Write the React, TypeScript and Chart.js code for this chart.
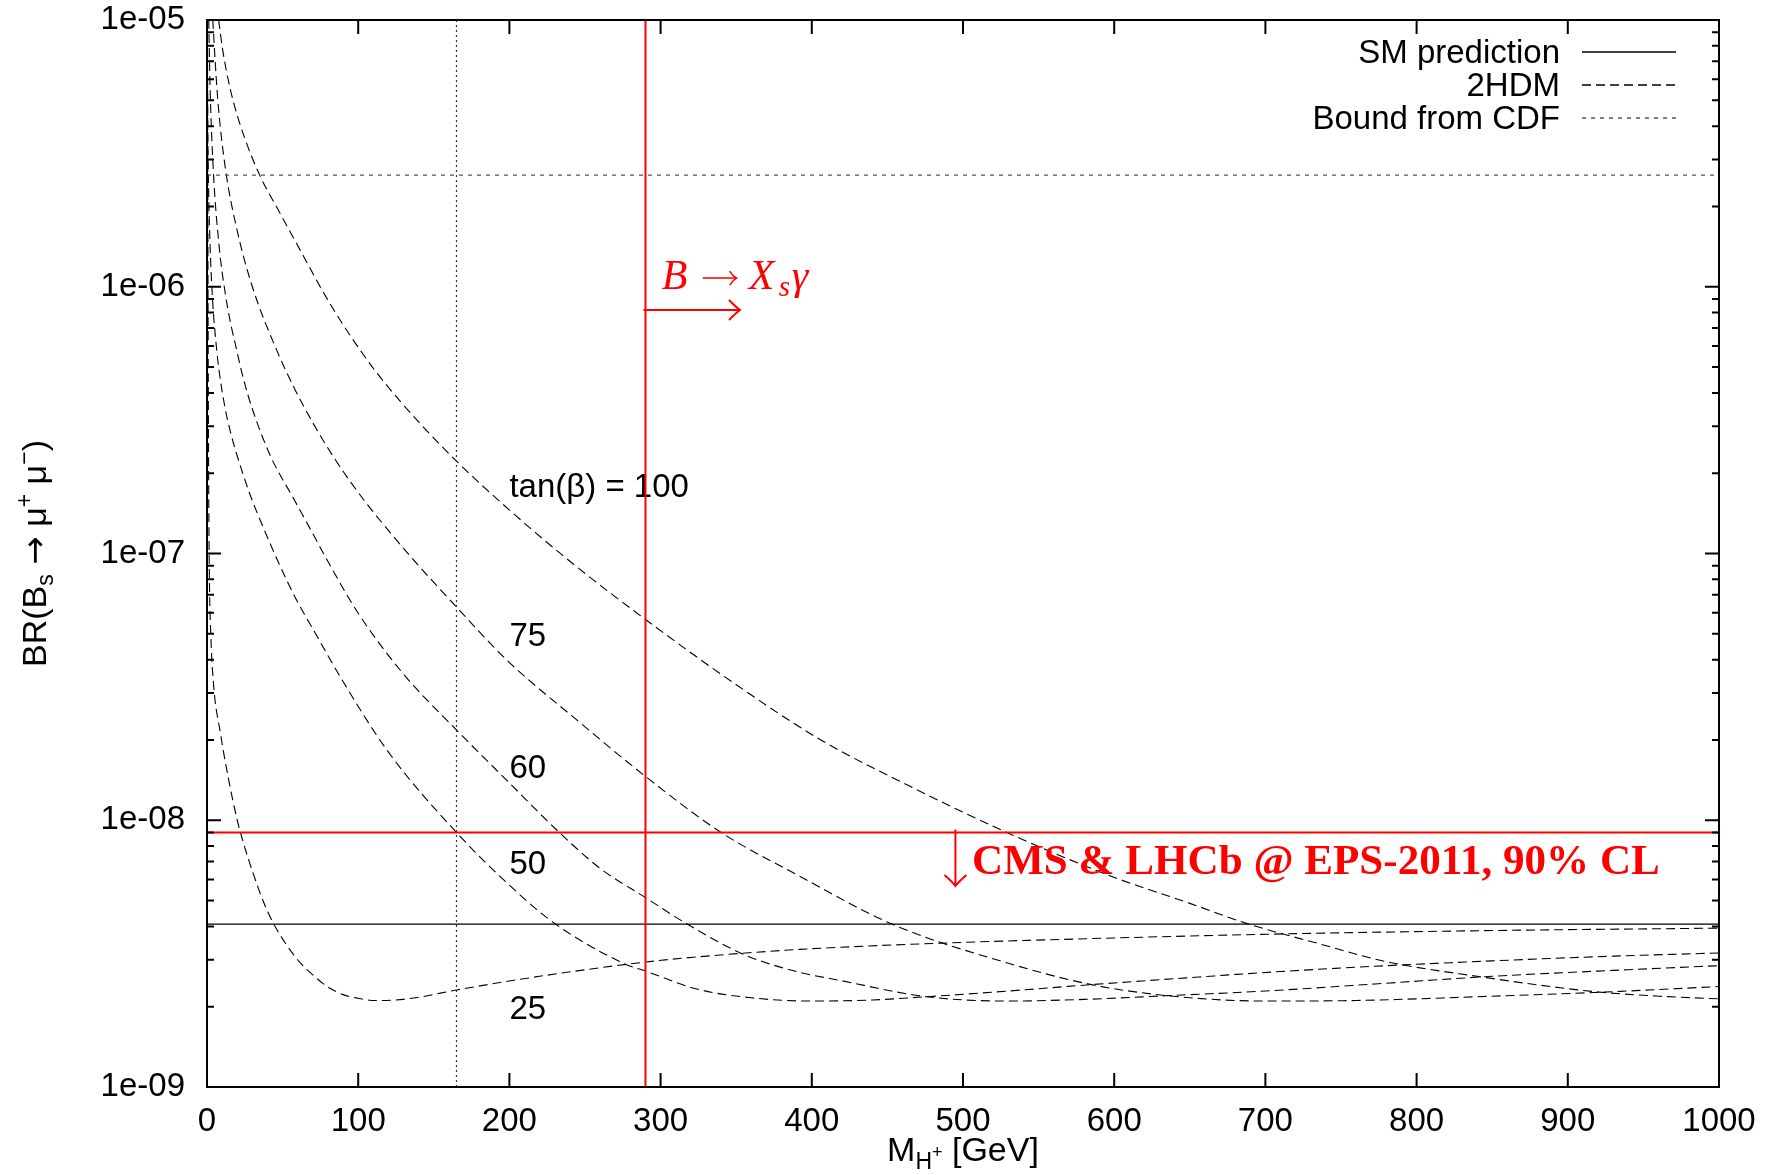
import React, { useEffect, useRef } from "react";
import { Chart, registerables } from "chart.js";

Chart.register(...registerables);

const SANS = "'Liberation Sans', Arial, Helvetica, 'DejaVu Sans', sans-serif";
const SERIF = "'Liberation Serif', 'Times New Roman', 'DejaVu Serif', serif";
const ARROWFONT = "'DejaVu Sans', sans-serif";
const FS = 33;

// ---------- axes ----------
const massTicks = [0, 100, 200, 300, 400, 500, 600, 700, 800, 900, 1000];
const massTickLabels = ["0", "100", "200", "300", "400", "500", "600", "700", "800", "900", "1000"];
const brTicks = [1e-9, 1e-8, 1e-7, 1e-6, 1e-5];
const brTickLabels = ["1e-09", "1e-08", "1e-07", "1e-06", "1e-05"];

// ---------- 2HDM curves: M_H+ [GeV] vs BR ----------
const mass100 = [7.7, 10, 13, 17.6, 25, 35, 48, 62, 80, 97, 112, 128, 145, 165, 194, 240, 290, 348, 406, 465, 529, 598, 650, 689, 735, 780, 840, 917, 960, 1000];
const br100 = [1.0e-5, 7.98e-6, 6.37e-6, 4.9e-6, 3.6e-6, 2.61e-6, 1.9e-6, 1.36e-6, 8.9e-7, 6.28e-7, 4.78e-7, 3.71e-7, 2.9e-7, 2.22e-7, 1.56e-7, 9.35e-8, 5.66e-8, 3.28e-8, 2.0e-8, 1.34e-8, 9.0e-9, 6.17e-9, 4.88e-9, 4.08e-9, 3.45e-9, 2.95e-9, 2.6e-9, 2.28e-9, 2.19e-9, 2.14e-9];

const mass75 = [3.8, 7, 12, 20, 30, 46, 58, 70, 85, 104, 120, 136, 165, 198, 248, 290, 340, 392, 453, 530, 585, 635, 700, 760, 850, 917, 1000];
const br75 = [1.0e-5, 5.13e-6, 2.82e-6, 1.62e-6, 1.0e-6, 5.8e-7, 4.14e-7, 3.09e-7, 2.24e-7, 1.58e-7, 1.22e-7, 9.55e-8, 6.3e-8, 4.0e-8, 2.29e-8, 1.46e-8, 9.0e-9, 6.17e-9, 4.08e-9, 2.91e-9, 2.42e-9, 2.2e-9, 2.1e-9, 2.11e-9, 2.19e-9, 2.26e-9, 2.38e-9];

const mass60 = [1.14, 2, 4, 8, 12, 15, 19.6, 24, 30, 42, 58, 68, 80, 100, 130, 165, 200, 233, 260, 290, 317, 355, 392, 417, 476, 530, 580, 635, 700, 780, 850, 920, 1000];
const br60 = [1.0e-5, 5.7e-6, 2.85e-6, 1.42e-6, 9.5e-7, 7.59e-7, 5.8e-7, 4.54e-7, 3.48e-7, 2.32e-7, 1.58e-7, 1.245e-7, 9.33e-8, 5.97e-8, 3.53e-8, 2.18e-8, 1.38e-8, 9.0e-9, 6.6e-9, 5.13e-9, 4.1e-9, 3.14e-9, 2.69e-9, 2.52e-9, 2.18e-9, 2.1e-9, 2.13e-9, 2.2e-9, 2.29e-9, 2.45e-9, 2.6e-9, 2.72e-9, 2.85e-9];

const mass50 = [0.15, 0.5, 1, 2, 3.5, 6.4, 8.5, 12, 15, 20, 24, 28.5, 37, 47, 58, 71, 90, 120, 165, 200, 230, 276, 290, 324, 360, 400, 440, 476, 530, 585, 650, 710, 780, 850, 920, 1000];
const br50 = [1.0e-5, 4.07e-6, 2.41e-6, 1.45e-6, 9.3e-7, 5.8e-7, 4.62e-7, 3.5e-7, 2.93e-7, 2.32e-7, 1.97e-7, 1.66e-7, 1.26e-7, 9.33e-8, 6.9e-8, 5.1e-8, 3.31e-8, 1.8e-8, 9.0e-9, 5.71e-9, 4.1e-9, 2.9e-9, 2.72e-9, 2.33e-9, 2.16e-9, 2.1e-9, 2.12e-9, 2.18e-9, 2.29e-9, 2.42e-9, 2.57e-9, 2.71e-9, 2.85e-9, 2.97e-9, 3.08e-9, 3.18e-9];

const mass25 = [0.3, 0.6, 1.0, 1.5, 2.5, 4.2, 9, 14, 20, 25, 30, 37, 44, 52, 61, 71, 80, 90, 100, 111, 125, 140, 165, 220, 290, 326, 392, 485, 600, 703, 850, 1000];
const br25 = [1.1e-5, 1.5e-6, 2.5e-7, 9.0e-8, 5.0e-8, 3.3e-8, 2.1e-8, 1.45e-8, 1.0e-8, 7.9e-9, 6.45e-9, 5.0e-9, 4.1e-9, 3.45e-9, 2.95e-9, 2.6e-9, 2.37e-9, 2.22e-9, 2.15e-9, 2.11e-9, 2.12e-9, 2.17e-9, 2.31e-9, 2.6e-9, 2.94e-9, 3.08e-9, 3.28e-9, 3.46e-9, 3.62e-9, 3.74e-9, 3.86e-9, 3.94e-9];

// ---------- reference lines ----------
const smPrediction = 4.08e-9;
const cdfBound = 2.62e-6;
const cmsLhcbLimit = 9.0e-9;
const bsgammaMassLimit = 290;
const dottedMass = 165;
const massRange = [0, 1000];
const brRange = [1e-9, 1e-5];

// ---------- curve labels (anchor in data coordinates) ----------
const curveLabels = ["tan(\u03b2) = 100", "75", "60", "50", "25"];
const curveLabelMass = [200, 200, 200, 200, 200];
const curveLabelBR = [1.63e-7, 4.5e-8, 1.445e-8, 6.3e-9, 1.8e-9];

const legendLabels = ["SM prediction", "2HDM", "Bound from CDF"];

// annotation anchors (data coordinates)
const bsgArrowMass = [290, 352.5];
const bsgArrowBR = 8.18e-7;
const bsgTextAnchor = { mass: 300.7, br: 9.8e-7 };
const cmsArrowMass = 495;
const cmsArrowEndBR = 5.67e-9;
const cmsTextMass = [506, 961];
const cmsTextBR = 6.29e-9;

const pts = (ms: number[], bs: number[]) => ms.map((m, i) => ({ x: m, y: bs[i] }));

const DASH_2HDM = [9, 5];
const DASH_CDF = [4, 5];

function drawPieces(ctx: CanvasRenderingContext2D, pieces: any[], x: number, y: number, align: "left" | "center") {
  const widths: number[] = [];
  let total = 0;
  for (const p of pieces) {
    ctx.font = `${p.style || ""} ${p.weight || ""} ${p.size}px ${p.family || SANS}`;
    const w = ctx.measureText(p.t).width + (p.gap || 0);
    widths.push(w);
    total += w;
  }
  let cx = align === "center" ? x - total / 2 : x;
  ctx.textAlign = "left";
  ctx.textBaseline = "alphabetic";
  pieces.forEach((p, i) => {
    ctx.font = `${p.style || ""} ${p.weight || ""} ${p.size}px ${p.family || SANS}`;
    ctx.fillText(p.t, cx + (p.pre || 0), y + (p.dy || 0));
    cx += widths[i];
  });
}

const decorPlugin = {
  id: "decor",
  beforeDatasetsDraw(chart: any) {
    const ctx: CanvasRenderingContext2D = chart.ctx;
    const xs = chart.scales.x;
    const ys = chart.scales.y;
    ctx.save();
    ctx.fillStyle = "#000";
    ctx.font = `${FS}px ${SANS}`;
    ctx.textAlign = "left";
    ctx.textBaseline = "alphabetic";
    curveLabels.forEach((t, i) => {
      ctx.fillText(t, xs.getPixelForValue(curveLabelMass[i]), ys.getPixelForValue(curveLabelBR[i]));
    });
    ctx.restore();
  },
  afterDatasetsDraw(chart: any) {
    const ctx: CanvasRenderingContext2D = chart.ctx;
    const xs = chart.scales.x;
    const ys = chart.scales.y;
    const { left, right, top, bottom } = chart.chartArea;
    ctx.save();

    // frame
    ctx.strokeStyle = "#000";
    ctx.lineWidth = 2;
    ctx.setLineDash([]);
    ctx.strokeRect(left, top, right - left, bottom - top);
    ctx.beginPath();
    for (const m of massTicks) {
      const px = xs.getPixelForValue(m);
      ctx.moveTo(px, bottom); ctx.lineTo(px, bottom - 14);
      ctx.moveTo(px, top); ctx.lineTo(px, top + 14);
    }
    for (const v of brTicks) {
      const py = ys.getPixelForValue(v);
      ctx.moveTo(left, py); ctx.lineTo(left + 14, py);
      ctx.moveTo(right, py); ctx.lineTo(right - 14, py);
    }
    for (let i = 0; i < brTicks.length - 1; i++) {
      for (let k = 2; k <= 9; k++) {
        const py = ys.getPixelForValue(brTicks[i] * k);
        ctx.moveTo(left, py); ctx.lineTo(left + 7, py);
        ctx.moveTo(right, py); ctx.lineTo(right - 7, py);
      }
    }
    ctx.stroke();

    // B -> Xs gamma arrow & text
    const red = "#ff0000";
    ctx.strokeStyle = red;
    ctx.fillStyle = red;
    ctx.lineWidth = 2;
    const ay = ys.getPixelForValue(bsgArrowBR);
    const ax0 = xs.getPixelForValue(bsgArrowMass[0]);
    const ax1 = xs.getPixelForValue(bsgArrowMass[1]);
    ctx.beginPath();
    ctx.moveTo(ax0 - 2, ay); ctx.lineTo(ax1, ay);
    ctx.moveTo(ax1 - 11, ay - 10); ctx.quadraticCurveTo(ax1 - 4, ay - 3, ax1, ay);
    ctx.quadraticCurveTo(ax1 - 4, ay + 3, ax1 - 11, ay + 10);
    ctx.stroke();
    const tx = xs.getPixelForValue(bsgTextAnchor.mass);
    const ty = ys.getPixelForValue(bsgTextAnchor.br);
    ctx.textAlign = "left";
    ctx.textBaseline = "alphabetic";
    ctx.font = `italic 42px ${SERIF}`;
    ctx.fillText("B", tx, ty);
    ctx.lineWidth = 1.5;
    const my = ty - 11;
    ctx.beginPath();
    ctx.moveTo(tx + 41, my); ctx.lineTo(tx + 75, my);
    ctx.moveTo(tx + 68, my - 7); ctx.quadraticCurveTo(tx + 71, my - 2, tx + 75, my);
    ctx.quadraticCurveTo(tx + 71, my + 2, tx + 68, my + 7);
    ctx.stroke();
    ctx.font = `italic 42px ${SERIF}`;
    ctx.fillText("X", tx + 87, ty);
    ctx.font = `italic 29px ${SERIF}`;
    ctx.fillText("s", tx + 117, ty + 7);
    ctx.font = `italic 42px ${SERIF}`;
    ctx.fillText("\u03b3", tx + 130, ty);

    // CMS & LHCb arrow & text
    ctx.lineWidth = 2;
    const dx = xs.getPixelForValue(cmsArrowMass);
    const dy0 = ys.getPixelForValue(cmsLhcbLimit) - 3;
    const dy1 = ys.getPixelForValue(cmsArrowEndBR);
    ctx.beginPath();
    ctx.moveTo(dx, dy0); ctx.lineTo(dx, dy1);
    ctx.moveTo(dx - 11, dy1 - 11); ctx.quadraticCurveTo(dx - 3, dy1 - 4, dx, dy1);
    ctx.quadraticCurveTo(dx + 3, dy1 - 4, dx + 11, dy1 - 11);
    ctx.stroke();
    const cx0 = xs.getPixelForValue(cmsTextMass[0]);
    const cx1 = xs.getPixelForValue(cmsTextMass[1]);
    const cmsText = "CMS & LHCb @ EPS-2011, 90% CL";
    ctx.font = `bold 42px ${SERIF}`;
    const w42 = ctx.measureText(cmsText).width;
    const fs = Math.max(30, Math.min(48, (42 * (cx1 - cx0)) / w42));
    ctx.font = `bold ${fs.toFixed(1)}px ${SERIF}`;
    ctx.fillText(cmsText, cx0, ys.getPixelForValue(cmsTextBR));

    // legend
    ctx.fillStyle = "#000";
    ctx.font = `${FS}px ${SANS}`;
    ctx.textAlign = "right";
    const legX = right - 159;
    const legBase = [top + 43, top + 76, top + 109];
    const styles = [
      { dash: [] as number[], color: "#000" },
      { dash: DASH_2HDM, color: "#000" },
      { dash: DASH_CDF, color: "#555" },
    ];
    legendLabels.forEach((t, i) => {
      ctx.fillText(t, legX, legBase[i]);
      ctx.beginPath();
      ctx.setLineDash(styles[i].dash);
      ctx.strokeStyle = styles[i].color;
      ctx.lineWidth = 1.3;
      ctx.moveTo(right - 137, legBase[i] - 11);
      ctx.lineTo(right - 43, legBase[i] - 11);
      ctx.stroke();
    });
    ctx.setLineDash([]);

    // x-axis title
    ctx.fillStyle = "#000";
    drawPieces(ctx, [
      { t: "M", size: 34 },
      { t: "H", size: 23, dy: 8 },
      { t: "+", size: 18, dy: -3 },
      { t: " [GeV]", size: 34 },
    ], (left + right) / 2, 1161, "center");

    // y-axis title
    ctx.save();
    ctx.translate(46, (top + bottom) / 2);
    ctx.rotate(-Math.PI / 2);
    drawPieces(ctx, [
      { t: "BR(B", size: 34 },
      { t: "s", size: 23, dy: 7 },
      { t: " ", size: 34 },
      { t: "\u2192", size: 34, family: ARROWFONT },
      { t: " \u03bc", size: 34 },
      { t: "+", size: 23, dy: -14 },
      { t: " \u03bc", size: 34 },
      { t: "\u2212", size: 23, dy: -14 },
      { t: ")", size: 34 },
    ], 0, 0, "center");
    ctx.restore();

    ctx.restore();
  },
};

export default function App() {
  const ref = useRef<HTMLCanvasElement>(null);
  useEffect(() => {
    const curveStyle = {
      borderColor: "#000",
      borderWidth: 1.1,
      borderDash: DASH_2HDM,
      pointRadius: 0,
      fill: false,
      cubicInterpolationMode: "monotone" as const,
    };
    const straight = { pointRadius: 0, fill: false, tension: 0 };
    const chart = new Chart(ref.current as HTMLCanvasElement, {
      type: "line",
      data: {
        datasets: [
          { label: "BsGamma", data: [{ x: bsgammaMassLimit, y: brRange[0] }, { x: bsgammaMassLimit, y: brRange[1] }], borderColor: "#ff0000", borderWidth: 2, ...straight },
          { label: "CMS+LHCb", data: [{ x: massRange[0], y: cmsLhcbLimit }, { x: massRange[1], y: cmsLhcbLimit }], borderColor: "#ff0000", borderWidth: 2, ...straight },
          { label: "SM prediction", data: [{ x: massRange[0], y: smPrediction }, { x: massRange[1], y: smPrediction }], borderColor: "#000", borderWidth: 1.2, ...straight },
          { label: "Bound from CDF", data: [{ x: massRange[0], y: cdfBound }, { x: massRange[1], y: cdfBound }], borderColor: "#555", borderWidth: 1.2, borderDash: DASH_CDF, ...straight },
          { label: "dotted", data: [{ x: dottedMass, y: brRange[0] }, { x: dottedMass, y: brRange[1] }], borderColor: "#333", borderWidth: 1.2, borderDash: [2, 3], ...straight },
          { label: "tanb100", data: pts(mass100, br100), ...curveStyle },
          { label: "tanb75", data: pts(mass75, br75), ...curveStyle },
          { label: "tanb60", data: pts(mass60, br60), ...curveStyle },
          { label: "tanb50", data: pts(mass50, br50), ...curveStyle },
          { label: "tanb25", data: pts(mass25, br25), ...curveStyle },
        ] as any,
      },
      options: {
        responsive: false,
        animation: false,
        layout: { padding: { left: 0, top: 20, right: 58, bottom: 0 } },
        plugins: { legend: { display: false }, tooltip: { enabled: false }, title: { display: false } },
        elements: { point: { radius: 0 } },
        scales: {
          x: {
            type: "linear",
            position: "bottom",
            min: massRange[0],
            max: massRange[1],
            afterBuildTicks: (s: any) => { s.ticks = massTicks.map((v) => ({ value: v })); },
            afterFit: (s: any) => { s.height = 88; s.paddingLeft = 0; s.paddingRight = 0; },
            ticks: {
              autoSkip: false,
              maxRotation: 0,
              padding: 15,
              color: "#000",
              font: { family: SANS, size: FS },
              callback: (v: any) => massTickLabels[massTicks.indexOf(Number(v))],
            },
            grid: { display: false, drawTicks: false },
            border: { display: false },
          },
          y: {
            type: "logarithmic",
            position: "left",
            min: brRange[0],
            max: brRange[1],
            afterBuildTicks: (s: any) => { s.ticks = brTicks.map((v) => ({ value: v })); },
            afterFit: (s: any) => { s.width = 207; s.paddingTop = 0; s.paddingBottom = 0; },
            ticks: {
              autoSkip: false,
              padding: 22,
              color: "#000",
              font: { family: SANS, size: FS },
              callback: (v: any) => {
                const idx = brTicks.findIndex((t) => Math.abs(Math.log10(t) - Math.log10(Number(v))) < 1e-6);
                return idx >= 0 ? brTickLabels[idx] : "";
              },
            },
            grid: { display: false, drawTicks: false },
            border: { display: false },
          },
        },
      } as any,
      plugins: [decorPlugin],
    });
    return () => chart.destroy();
  }, []);
  return (
    <canvas
      ref={ref}
      width={1777}
      height={1175}
      style={{ position: "fixed", left: 0, top: 0, display: "block", background: "#fff" }}
    />
  );
}
